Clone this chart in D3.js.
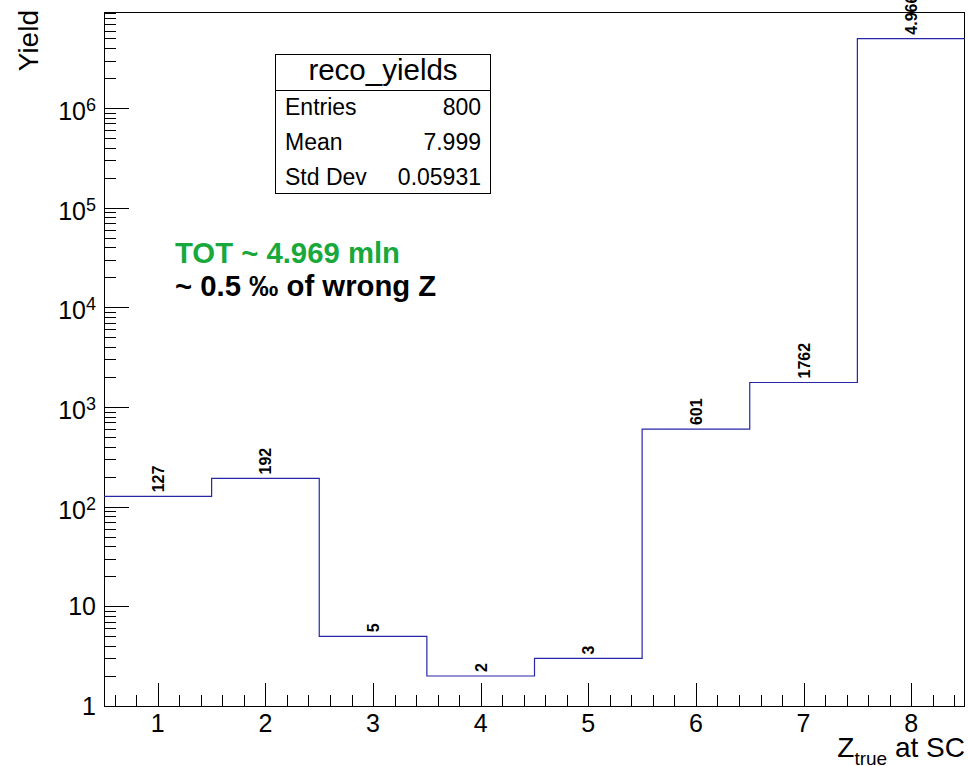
<!DOCTYPE html>
<html>
<head>
<meta charset="utf-8">
<script src="https://cdn.jsdelivr.net/npm/d3@7"></script>
<style>
  html, body { margin: 0; padding: 0; background: #fff; }
  svg { display: block; font-family: "Liberation Sans", Arial, Helvetica, sans-serif; }
</style>
</head>
<body>
<svg id="chart" width="968" height="766"></svg>
<script>
// Reconstructed charge bins (Z_true at SC) and their yields
const bins = [1, 2, 3, 4, 5, 6, 7, 8];
const yields = [127, 192, 5, 2, 3, 601, 1762, 4966300];
const xTicks = [1, 2, 3, 4, 5, 6, 7, 8];
const yDecades = [1, 10, 100, 1000, 10000, 100000, 1000000];

// Statistics box contents
const statsTitle = "reco_yields";
const statsRows = [["Entries", "800"], ["Mean", "7.999"], ["Std Dev", "0.05931"]];

const svg = d3.select("#chart");
const pLeft = 104, pRight = 965, pTop = 12, pBottom = 706;

const x = d3.scaleLinear().domain([0.5, 8.5]).range([pLeft, pRight]);
const y = d3.scaleLog().domain([1, 9.2e6]).range([pBottom, pTop]);

function addText(px, py, opts = {}) {
  const rot = opts.rotate ? ` rotate(${opts.rotate})` : "";
  return svg.append("text")
    .attr("transform", `translate(${px},${py})${rot}`)
    .attr("text-anchor", opts.anchor || "start")
    .attr("font-size", opts.size || 20)
    .attr("font-weight", opts.weight || "normal")
    .attr("fill", opts.fill || "#000");
}

// %g-like formatting used for the bin labels
function fmtG(v) {
  if (v < 1e6) return String(v);
  const [m, e] = v.toExponential(3).split("e");
  const ex = parseInt(e, 10);
  return m + "e" + (ex < 0 ? "-" : "+") + String(Math.abs(ex)).padStart(2, "0");
}

// Frame
svg.append("rect")
  .attr("x", pLeft + 0.5).attr("y", pTop + 0.5)
  .attr("width", pRight - pLeft - 1).attr("height", pBottom - pTop)
  .attr("fill", "none").attr("stroke", "#000").attr("stroke-width", 1);

// Y axis ticks (log): major at decades, minor at 2..9
const yMinor = [];
for (let d = 1; d <= 1e6; d *= 10) {
  for (let k = 2; k <= 9; k++) {
    const v = d * k;
    if (v <= y.domain()[1]) yMinor.push(v);
  }
}
const yAxisG = svg.append("g").attr("transform", `translate(${pLeft},0)`);
yAxisG.selectAll("line.minor").data(yMinor).join("line")
  .attr("class", "minor")
  .attr("x1", 0).attr("x2", 12)
  .attr("y1", d => Math.round(y(d)) + 0.5).attr("y2", d => Math.round(y(d)) + 0.5)
  .attr("stroke", "#000").attr("stroke-width", 1);
yAxisG.selectAll("line.major").data(yDecades).join("line")
  .attr("class", "major")
  .attr("x1", 0).attr("x2", 25)
  .attr("y1", d => Math.round(y(d)) + 0.5).attr("y2", d => Math.round(y(d)) + 0.5)
  .attr("stroke", "#000").attr("stroke-width", 1);

// Y tick labels: "1", "10", then 10^n
yDecades.forEach(v => {
  const e = Math.round(Math.log10(v));
  if (e <= 1) {
    addText(96, y(v) + 9, { anchor: "end", size: 25 }).text(String(v));
  } else {
    const t = addText(96, y(v) + 12, { anchor: "end", size: 25 });
    t.append("tspan").text("10");
    t.append("tspan").attr("font-size", 18).attr("dy", -9).text(String(e));
  }
});

// X axis ticks: major at integers, minor every 0.2
const xMinor = d3.range(0.6, 8.5, 0.2).filter(v => Math.abs(v - Math.round(v)) > 1e-6);
const xAxisG = svg.append("g");
xAxisG.selectAll("line.minor").data(xMinor).join("line")
  .attr("class", "minor")
  .attr("x1", d => Math.round(x(d)) + 0.5).attr("x2", d => Math.round(x(d)) + 0.5)
  .attr("y1", pBottom).attr("y2", pBottom - 11)
  .attr("stroke", "#000").attr("stroke-width", 1);
xAxisG.selectAll("line.major").data(xTicks).join("line")
  .attr("class", "major")
  .attr("x1", d => Math.round(x(d)) + 0.5).attr("x2", d => Math.round(x(d)) + 0.5)
  .attr("y1", pBottom).attr("y2", pBottom - 23)
  .attr("stroke", "#000").attr("stroke-width", 1);
xTicks.forEach(t => {
  addText(x(t), 732, { anchor: "middle", size: 25 }).text(t);
});

// Axis titles
addText(38, pTop - 2, { anchor: "end", size: 28, rotate: -90 }).text("Yield");
const xt = addText(pRight, 757, { anchor: "end", size: 28 });
xt.append("tspan").text("Z");
xt.append("tspan").attr("font-size", 19).attr("dy", 8).text("true");
xt.append("tspan").attr("dy", -8).text(" at SC");

// Histogram outline as a step line
const pts = [];
bins.forEach((b, i) => {
  pts.push([x(b - 0.5), y(yields[i])]);
  pts.push([x(b + 0.5), y(yields[i])]);
});
svg.append("clipPath").attr("id", "plotclip")
  .append("rect").attr("x", pLeft).attr("y", pTop).attr("width", pRight - pLeft).attr("height", pBottom - pTop);
svg.append("path")
  .attr("clip-path", "url(#plotclip)")
  .attr("d", d3.line()(pts))
  .attr("fill", "none").attr("stroke", "#2626a8").attr("stroke-width", 1.2);

// Bin value labels, rotated
bins.forEach((b, i) => {
  addText(x(b) + 6, y(yields[i]) - 4, { size: 16, weight: "bold", rotate: -90 })
    .text(fmtG(yields[i]));
});

// Statistics box
const sb = { x: 275, y: 54, w: 215, h: 139, titleH: 36 };
svg.append("rect").attr("x", sb.x + 0.5).attr("y", sb.y + 0.5)
  .attr("width", sb.w).attr("height", sb.h)
  .attr("fill", "#fff").attr("stroke", "#000").attr("stroke-width", 1);
svg.append("line").attr("x1", sb.x).attr("x2", sb.x + sb.w)
  .attr("y1", sb.y + sb.titleH + 0.5).attr("y2", sb.y + sb.titleH + 0.5)
  .attr("stroke", "#000");
addText(sb.x + sb.w / 2 + 0.5, sb.y + 26, { anchor: "middle", size: 29.5 }).text(statsTitle);
statsRows.forEach((r, i) => {
  const yy = sb.y + 61 + i * 35;
  addText(sb.x + 10, yy, { size: 23 }).text(r[0]);
  addText(sb.x + sb.w - 9, yy, { anchor: "end", size: 23 }).text(r[1]);
});

// Annotations
addText(175, 263, { size: 29.3, weight: "bold", fill: "#18a83c" }).text("TOT ~ 4.969 mln");
addText(175, 296, { size: 29.3, weight: "bold" }).text("~ 0.5 \u2030 of wrong Z");
</script>
</body>
</html>
